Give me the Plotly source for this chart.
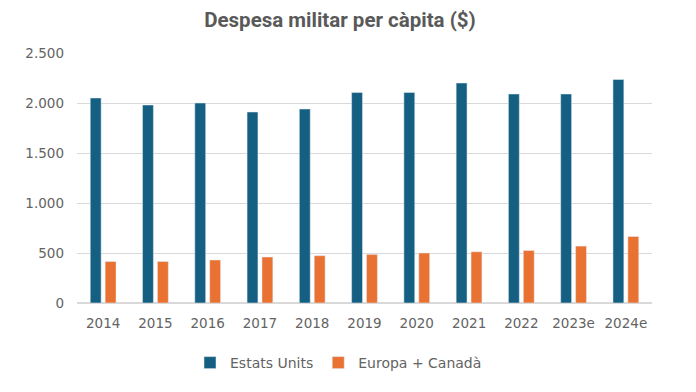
import plotly.graph_objects as go

years = ["2014", "2015", "2016", "2017", "2018", "2019", "2020", "2021", "2022", "2023e", "2024e"]
estats_units = [2050, 1980, 2000, 1910, 1940, 2105, 2105, 2200, 2090, 2090, 2235]
europa_canada = [415, 415, 430, 460, 473, 486, 500, 512, 525, 569, 665]

tick_font = "DejaVu Sans, Verdana, sans-serif"
title_font = "Roboto, Arial, sans-serif"
text_color = "#636363"

# page body has an 8px default margin, so the figure is 8px smaller than the window
W, H = 688, 384

fig = go.Figure()
fig.add_trace(go.Bar(x=years, y=estats_units, name="Estats Units", marker_color="#156082"))
fig.add_trace(go.Bar(x=years, y=europa_canada, name="Europa + Canadà", marker_color="#E97132"))

fig.update_layout(
    width=W, height=H,
    margin=dict(l=69, r=44, t=45, b=89),
    paper_bgcolor="white", plot_bgcolor="white",
    separators=",.",
    barmode="group", bargap=0.43, bargroupgap=0.27,
    title=dict(text="<b>Despesa militar per càpita ($)</b>",
               xref="container", x=(340 - 8) / W, xanchor="center",
               yref="container", y=1 - (19.5 - 8) / H, yanchor="middle",
               font=dict(family=title_font, size=20.5, color="#595959")),
    font=dict(family=tick_font, size=13.5, color=text_color),
    legend=dict(orientation="h", xref="container", x=(190 - 8) / W, xanchor="left",
                yref="container", y=1 - (363 - 8) / H, yanchor="middle",
                font=dict(family=tick_font, size=14, color=text_color),
                bgcolor="rgba(0,0,0,0)"),
    showlegend=True,
)
fig.update_yaxes(range=[0, 2500], tickvals=[0, 500, 1000, 1500, 2000, 2500], tickformat=",d",
                 showgrid=True, gridcolor="#d9d9d9", gridwidth=1, zeroline=True,
                 zerolinecolor="#d9d9d9", showline=False, ticks="",
                 ticklabelstandoff=12,
                 tickfont=dict(family=tick_font, size=13.5, color=text_color))
fig.update_xaxes(showline=True, linecolor="#d9d9d9", ticks="", ticklabelstandoff=8,
                 tickfont=dict(family=tick_font, size=13.5, color=text_color))

fig.write_html("out.html")
